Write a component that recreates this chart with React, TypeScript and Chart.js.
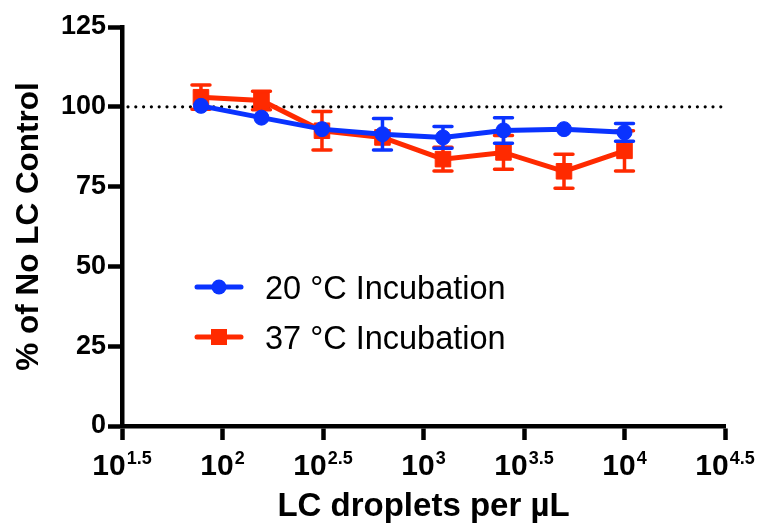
import React, { useEffect, useRef } from "react";
import { Chart, registerables } from "chart.js";

Chart.register(...registerables);

// Droplet concentrations (two-fold dilution series), per µL
const dropletCounts = [78.125, 156.25, 312.5, 625, 1250, 2500, 5000, 10000];

// Signal as % of the no-LC control, mean and SEM (0 = whisker shorter than the symbol)
const incubation20 = [100.3, 96.6, 93.0, 91.4, 90.4, 92.6, 93.0, 92.0];
const incubation20Sem = [0, 0, 0, 4.9, 3.4, 4.0, 0, 2.8];
const incubation37 = [103.0, 102.0, 92.5, 90.4, 83.6, 85.7, 79.8, 86.2];
const incubation37Sem = [3.8, 2.9, 6.0, 0, 3.7, 5.3, 5.3, 6.3];

const seriesLabels = ["20 °C Incubation", "37 °C Incubation"];
const seriesColors = ["#0A33FF", "#FF2A00"];
const seriesSem = [incubation20Sem, incubation37Sem];

const xTickExponents = [1.5, 2, 2.5, 3, 3.5, 4, 4.5];
const yTickValues = [0, 25, 50, 75, 100, 125];
const referenceLevel = 100;

const FONT = '"Liberation Sans", Arial, Helvetica, sans-serif';

const toPoints = (ys: number[]) => ys.map((y, i) => ({ x: dropletCounts[i], y }));

// Dotted line marking the control level
const referenceLine = {
  id: "referenceLine",
  beforeDatasetsDraw(chart: any) {
    const { ctx, chartArea, scales } = chart;
    const y = scales.y.getPixelForValue(referenceLevel);
    ctx.save();
    ctx.strokeStyle = "#000";
    ctx.lineWidth = 3.2;
    ctx.lineCap = "round";
    ctx.setLineDash([0, 7.8]);
    ctx.beginPath();
    ctx.moveTo(chartArea.left + 6, y);
    ctx.lineTo(chartArea.right, y);
    ctx.stroke();
    ctx.restore();
  },
};

// SEM whiskers, drawn just before each series so markers sit on top
const errorBars = {
  id: "errorBars",
  beforeDatasetDraw(chart: any, args: any) {
    const errs = seriesSem[args.index];
    if (!errs) return;
    const ds = chart.data.datasets[args.index];
    const { ctx, scales } = chart;
    const cap = 9;
    ctx.save();
    ctx.strokeStyle = ds.borderColor;
    ctx.lineWidth = 3.5;
    ctx.lineCap = "round";
    ds.data.forEach((pt: any, i: number) => {
      if (!errs[i]) return;
      const x = scales.x.getPixelForValue(pt.x);
      const yTop = scales.y.getPixelForValue(pt.y + errs[i]);
      const yBot = scales.y.getPixelForValue(pt.y - errs[i]);
      ctx.beginPath();
      ctx.moveTo(x, yTop);
      ctx.lineTo(x, yBot);
      ctx.moveTo(x - cap, yTop);
      ctx.lineTo(x + cap, yTop);
      ctx.moveTo(x - cap, yBot);
      ctx.lineTo(x + cap, yBot);
      ctx.stroke();
    });
    ctx.restore();
  },
};

// Power-of-ten tick labels with superscript exponents
const powerTickLabels = {
  id: "powerTickLabels",
  afterDraw(chart: any) {
    const { ctx, scales } = chart;
    const xs = scales.x;
    const baseFont = `bold 30px ${FONT}`;
    const supFont = `bold 18px ${FONT}`;
    const baseY = xs.top + 49;
    const supY = xs.top + 37.5;
    ctx.save();
    ctx.fillStyle = "#000";
    ctx.textBaseline = "alphabetic";
    ctx.textAlign = "left";
    xTickExponents.forEach((e) => {
      const x = xs.getPixelForValue(Math.pow(10, e));
      const expText = String(e);
      ctx.font = baseFont;
      const wBase = ctx.measureText("10").width;
      ctx.font = supFont;
      const wSup = ctx.measureText(expText).width;
      const start = x - (wBase + 1 + wSup) / 2;
      ctx.font = baseFont;
      ctx.fillText("10", start, baseY);
      ctx.font = supFont;
      ctx.fillText(expText, start + wBase + 1, supY);
    });
    ctx.restore();
  },
};

// Legend placed inside the plot area
const insideLegend = {
  id: "insideLegend",
  afterDraw(chart: any) {
    const { ctx } = chart;
    const rows = [287, 337];
    ctx.save();
    chart.data.datasets.forEach((ds: any, i: number) => {
      const y = rows[i];
      ctx.strokeStyle = ds.borderColor;
      ctx.fillStyle = ds.borderColor;
      ctx.lineWidth = 5;
      ctx.lineCap = "round";
      ctx.beginPath();
      ctx.moveTo(197, y);
      ctx.lineTo(241, y);
      ctx.stroke();
      if (ds.pointStyle === "rect") {
        ctx.fillRect(219 - 8, y - 8, 16, 16);
      } else {
        ctx.beginPath();
        ctx.arc(219, y, 7.5, 0, Math.PI * 2);
        ctx.fill();
      }
      ctx.fillStyle = "#000";
      ctx.font = `32.5px ${FONT}`;
      ctx.textBaseline = "alphabetic";
      ctx.textAlign = "left";
      ctx.fillText(ds.label, 265, y + 11.5);
    });
    ctx.restore();
  },
};

export default function App() {
  const canvasRef = useRef<HTMLCanvasElement | null>(null);

  useEffect(() => {
    if (!canvasRef.current) return;
    const chart = new Chart(canvasRef.current, {
      type: "line",
      data: {
        datasets: [
          {
            label: seriesLabels[0],
            data: toPoints(incubation20),
            borderColor: seriesColors[0],
            backgroundColor: seriesColors[0],
            borderWidth: 5,
            pointStyle: "circle",
            pointRadius: 7.5,
            pointBorderWidth: 1,
            tension: 0,
          },
          {
            label: seriesLabels[1],
            data: toPoints(incubation37),
            borderColor: seriesColors[1],
            backgroundColor: seriesColors[1],
            borderWidth: 5,
            pointStyle: "rect",
            pointRadius: 11,
            pointBorderWidth: 1,
            tension: 0,
          },
        ],
      },
      options: {
        responsive: false,
        animation: false,
        layout: { padding: { top: 27, right: 36, left: 0, bottom: 0 } },
        plugins: {
          legend: { display: false },
          tooltip: { enabled: false },
        },
        scales: {
          x: {
            type: "logarithmic",
            min: Math.pow(10, 1.5),
            max: Math.pow(10, 4.5),
            afterBuildTicks: (s: any) => {
              s.ticks = xTickExponents.map((e) => ({ value: Math.pow(10, e) }));
            },
            afterFit: (s: any) => {
              s.height = 101;
            },
            ticks: { display: false },
            grid: {
              display: true,
              drawOnChartArea: false,
              drawTicks: true,
              tickLength: 14,
              tickWidth: 4.5,
              color: "#000",
              tickColor: "#000",
            },
            border: { display: true, color: "#000", width: 4.5 },
            title: {
              display: true,
              text: "LC droplets per µL",
              color: "#000",
              font: { family: FONT, size: 33, weight: "bold" },
              padding: { top: 0, bottom: 0 },
            },
          },
          y: {
            type: "linear",
            min: 0,
            max: 125,
            afterBuildTicks: (s: any) => {
              s.ticks = yTickValues.map((v) => ({ value: v }));
            },
            afterFit: (s: any) => {
              s.width = 122;
            },
            ticks: {
              color: "#000",
              padding: 2,
              font: { family: FONT, size: 27, weight: "bold" },
            },
            grid: {
              display: true,
              drawOnChartArea: false,
              drawTicks: true,
              tickLength: 14,
              tickWidth: 4.5,
              color: "#000",
              tickColor: "#000",
            },
            border: { display: true, color: "#000", width: 4.5 },
            title: {
              display: true,
              text: "% of No LC Control",
              color: "#000",
              font: { family: FONT, size: 31.5, weight: "bold" },
              padding: { top: 10, bottom: 0 },
            },
          },
        },
      },
      plugins: [referenceLine, errorBars, powerTickLabels, insideLegend],
    } as any);
    return () => chart.destroy();
  }, []);

  return (
    <div style={{ position: "absolute", left: 0, top: 0, width: 761, height: 527, background: "#fff" }}>
      <canvas ref={canvasRef} width={761} height={527} style={{ display: "block" }} />
    </div>
  );
}
